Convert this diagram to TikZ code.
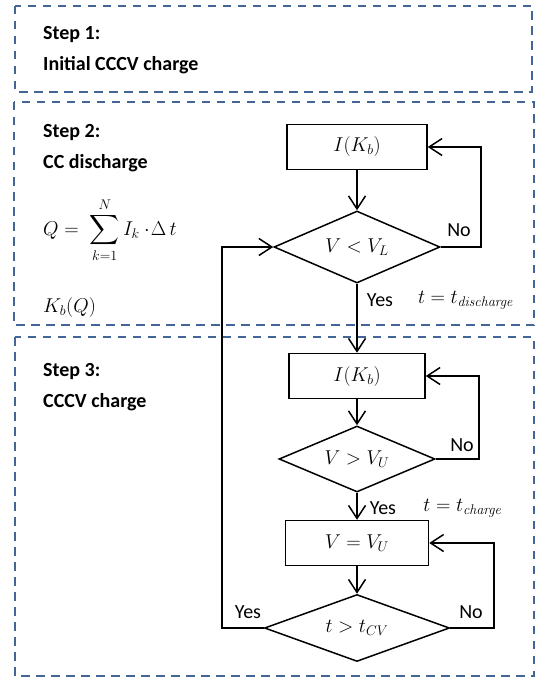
\RequirePackage{fix-cm}
\documentclass[tikz,border=0pt]{standalone}
\usepackage{amsmath}
\usepackage[no-math]{fontspec}
\setmainfont{Carlito}
\usetikzlibrary{arrows.meta,shapes.geometric}
\definecolor{dashblue}{RGB}{68,102,150}
\begin{document}
\begin{tikzpicture}[x=1pt,y=-1pt,
  dbox/.style={draw=dashblue, line width=1.9pt, dash pattern=on 8.5pt off 6.5pt},
  steptext/.style={font=\fontsize{20}{24}\selectfont\bfseries, anchor=west, inner sep=0pt},
  lbl/.style={font=\fontsize{20}{24}\selectfont, inner sep=0pt},
  mth/.style={font=\fontsize{20}{24}\selectfont, inner sep=0pt},
  fbox/.style={draw, line width=1.5pt, minimum height=45pt, inner sep=0pt, font=\fontsize{20}{24}\selectfont},
  dia/.style={draw, diamond, aspect=2.3, line width=1.5pt, inner sep=0pt, font=\fontsize{20}{24}\selectfont},
  arr/.style={line width=1.5pt, -{Straight Barb[length=13pt,width=17pt,line width=1.5pt]}},
  ln/.style={line width=1.5pt}]
\useasboundingbox (0,0) rectangle (541,679);
% dashed step boxes
\draw[dbox] (15,6) rectangle (532,92);
\draw[dbox] (14,102) rectangle (534,325);
\draw[dbox] (15,337) rectangle (534,676);
% left texts
\node[steptext] (s1) at (43,35) {Step 1:};
\node[steptext] (s1b) at (43,65) {Initial CCCV charge};
\node[steptext] (s2) at (43,133) {Step 2:};
\node[steptext] (s2b) at (43,163) {CC discharge};
\node[mth, anchor=west] (fq) at (43,230) {$\displaystyle Q = \;\sum_{k=1}^{N} I_k \cdot\!\Delta\, t$};
\node[mth, anchor=west] (kb) at (43,307) {$K_b(Q)$};
\node[steptext] (s3) at (43,372) {Step 3:};
\node[steptext] (s3b) at (43,402) {CCCV charge};
% flowchart
\node[fbox, minimum width=140pt] (b1) at (357,147) {$I(K_b)$};
\node[dia, minimum width=166pt, minimum height=72pt] (d1) at (357,247) {$V < V_L$};
\node[fbox, minimum width=136pt] (b2) at (357,376) {$I(K_b)$};
\node[dia, minimum width=156pt, minimum height=66pt] (d2) at (357,459) {$V > V_U$};
\node[fbox, minimum width=143pt] (b3) at (357,543) {$V = V_U$};
\node[dia, minimum width=185pt, minimum height=67pt] (d3) at (357,628) {$t > t_{CV}$};
\coordinate (n1) at (481,0);
\coordinate (n2) at (479,0);
\coordinate (n3) at (494,0);
\coordinate (lp) at (222,0);
\draw[arr] (b1) -- (d1);
\draw[arr] (d1) -- (b2);
\draw[arr] (b2) -- (d2);
\draw[arr] (d2) -- (b3);
\draw[arr] (b3) -- (d3);
\draw[arr] (d1.east) -- (d1.east -| n1) |- (b1.east);
\draw[arr] (d2.east) -- (d2.east -| n2) |- (b2.east);
\draw[arr] (d3.east) -- (d3.east -| n3) |- (b3.east);
\draw[arr] (d3.west) -- (d3.west -| lp) |- (d1.west);
% labels
\node[lbl] (no1) at (459,230) {No};
\node[lbl] (yes1) at (380,300) {Yes};
\node[mth] (td) at (466,300) {$t = t_{\mathit{discharge}}$};
\node[lbl] (no2) at (462,445) {No};
\node[lbl] (yes2) at (383,508) {Yes};
\node[mth] (tc) at (463,508) {$t = t_{\mathit{charge}}$};
\node[lbl] (no3) at (471,612) {No};
\node[lbl] (yes3) at (248,612) {Yes};
\end{tikzpicture}
\end{document}
